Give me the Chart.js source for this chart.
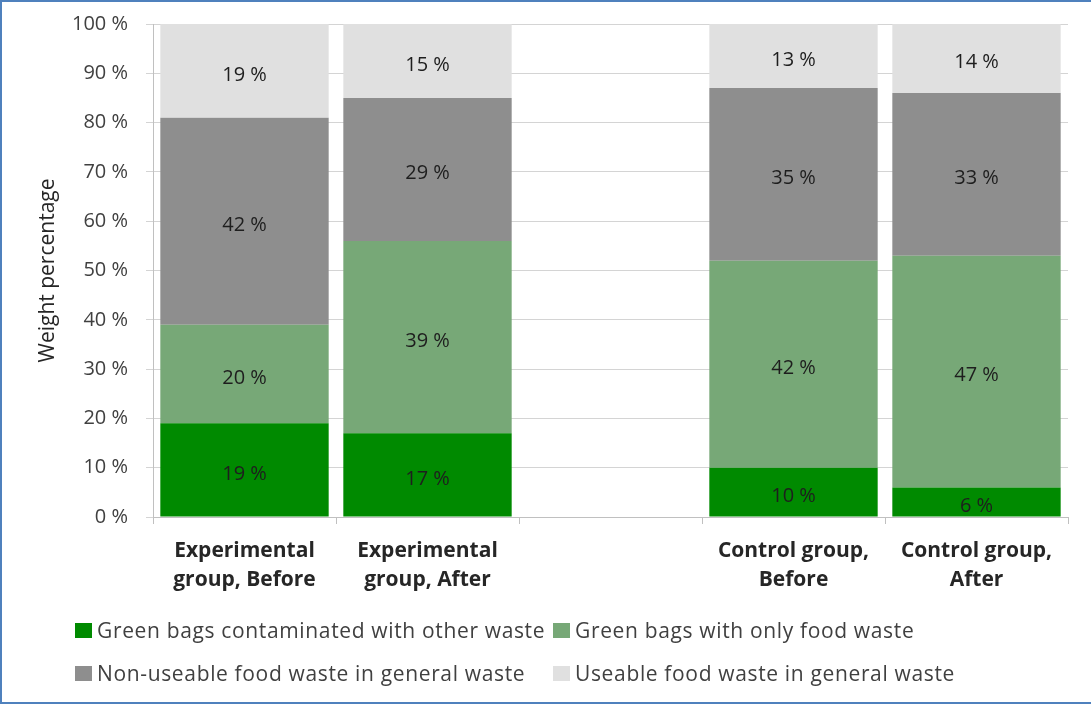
<!DOCTYPE html>
<html>
<head>
<meta charset="utf-8">
<script src="https://cdn.jsdelivr.net/npm/chart.js@4/dist/chart.umd.min.js"></script>
<style>
  html, body { margin: 0; padding: 0; background: #ffffff; }
  #wrap { position: relative; width: 1091px; height: 704px; overflow: hidden; }
  #frame {
    position: absolute; left: 0; top: 0; width: 1091px; height: 704px; box-sizing: border-box;
    border-top: 2px solid #4f81bd; border-left: 2px solid #4f81bd; border-bottom: 2px solid #4f81bd;
    pointer-events: none;
  }
  canvas { position: absolute; left: 0; top: 0; }
  .lg-item {
    position: absolute; display: flex; align-items: center; white-space: nowrap;
    font-family: "Open Sans", sans-serif; font-size: 21px; letter-spacing: 0.65px;
    color: #404040; line-height: 26px;
  }
  .lg-box { width: 17px; height: 15px; margin-right: 5px; }
</style>
</head>
<body>
<div id="wrap">
  <canvas id="chart" width="1091" height="704"></canvas>
  <div id="legend"></div>
  <div id="frame"></div>
</div>
<script>
// Groups on the x axis (the empty one leaves a gap between the two groups)
const categories = [
  ['Experimental', 'group, Before'],
  ['Experimental', 'group, After'],
  '',
  ['Control group,', 'Before'],
  ['Control group,', 'After']
];

// Share of total weight per waste fraction (%)
const contaminatedBags = [19, 17, null, 10, 6];
const foodOnlyBags     = [20, 39, null, 42, 47];
const nonUseableWaste  = [42, 29, null, 35, 33];
const useableWaste     = [19, 15, null, 13, 14];

const seriesNames = [
  'Green bags contaminated with other waste',
  'Green bags with only food waste',
  'Non-useable food waste in general waste',
  'Useable food waste in general waste'
];

const yTicks = [0, 10, 20, 30, 40, 50, 60, 70, 80, 90, 100];

const colors = ['#008a00', '#77a877', '#8e8e8e', '#e0e0e0'];
const FONT = '"Open Sans", sans-serif';

// Writes each segment's value in the middle of its bar
const segmentLabels = {
  id: 'segmentLabels',
  afterDatasetsDraw(chart) {
    const ctx = chart.ctx;
    ctx.save();
    ctx.font = '20px ' + FONT;
    ctx.fillStyle = '#1e1e1e';
    ctx.textAlign = 'center';
    ctx.textBaseline = 'middle';
    chart.data.datasets.forEach((ds, i) => {
      const meta = chart.getDatasetMeta(i);
      meta.data.forEach((bar, j) => {
        const v = ds.data[j];
        if (v === null || v === undefined) return;
        ctx.fillText(v + ' %', bar.x, (bar.y + bar.base) / 2 + 4);
      });
    });
    ctx.restore();
  }
};

const seriesData = [contaminatedBags, foodOnlyBags, nonUseableWaste, useableWaste];

const chart = new Chart(document.getElementById('chart'), {
  type: 'bar',
  data: {
    labels: categories,
    datasets: seriesNames.map((name, i) => ({
      label: name,
      data: seriesData[i],
      backgroundColor: colors[i],
      borderWidth: 0,
      barPercentage: 0.92,
      categoryPercentage: 1.0
    }))
  },
  options: {
    responsive: false,
    animation: false,
    devicePixelRatio: 1,
    layout: { padding: { left: 0, right: 23, top: 24, bottom: 0 } },
    plugins: {
      legend: { display: false },
      tooltip: { enabled: false }
    },
    scales: {
      x: {
        stacked: true,
        afterFit(scale) { scale.height = 187; },
        grid: {
          offset: true,
          drawOnChartArea: false,
          drawTicks: true,
          tickLength: 7,
          color: '#c0c0c0'
        },
        border: { color: '#c0c0c0', width: 1 },
        ticks: {
          autoSkip: false,
          maxRotation: 0,
          padding: 13,
          color: '#262626',
          font: { family: FONT, size: 21, weight: 'bold', lineHeight: '29px' }
        }
      },
      y: {
        stacked: true,
        min: 0,
        max: 100,
        afterFit(scale) {
          scale.width = 153;
          // keep the top/bottom gap to the label overhang only
          scale.paddingTop = 12;
          scale.paddingBottom = 12;
        },
        afterBuildTicks(scale) { scale.ticks = yTicks.map(v => ({ value: v })); },
        grid: {
          color: '#d4d4d4',
          tickLength: 7,
          drawTicks: true
        },
        border: { color: '#c0c0c0', width: 1 },
        ticks: {
          padding: 18,
          color: '#404040',
          font: { family: FONT, size: 20 },
          callback: v => v + ' %'
        },
        title: {
          display: true,
          text: 'Weight percentage',
          color: '#262626',
          font: { family: FONT, size: 21 },
          padding: { top: 35, bottom: 0 }
        }
      }
    }
  },
  plugins: [segmentLabels]
});

// Two-column legend built from the chart's own datasets
const legendPos = [
  { left: 75, top: 630 },
  { left: 553, top: 630 },
  { left: 75, top: 673 },
  { left: 553, top: 673 }
];
const legendEl = document.getElementById('legend');
chart.data.datasets.forEach((ds, i) => {
  const item = document.createElement('div');
  item.className = 'lg-item';
  item.style.left = legendPos[i].left + 'px';
  item.style.top = (legendPos[i].top - 13) + 'px';
  const box = document.createElement('span');
  box.className = 'lg-box';
  box.style.background = ds.backgroundColor;
  const txt = document.createElement('span');
  txt.textContent = ds.label;
  item.appendChild(box);
  item.appendChild(txt);
  legendEl.appendChild(item);
});
</script>
</body>
</html>
